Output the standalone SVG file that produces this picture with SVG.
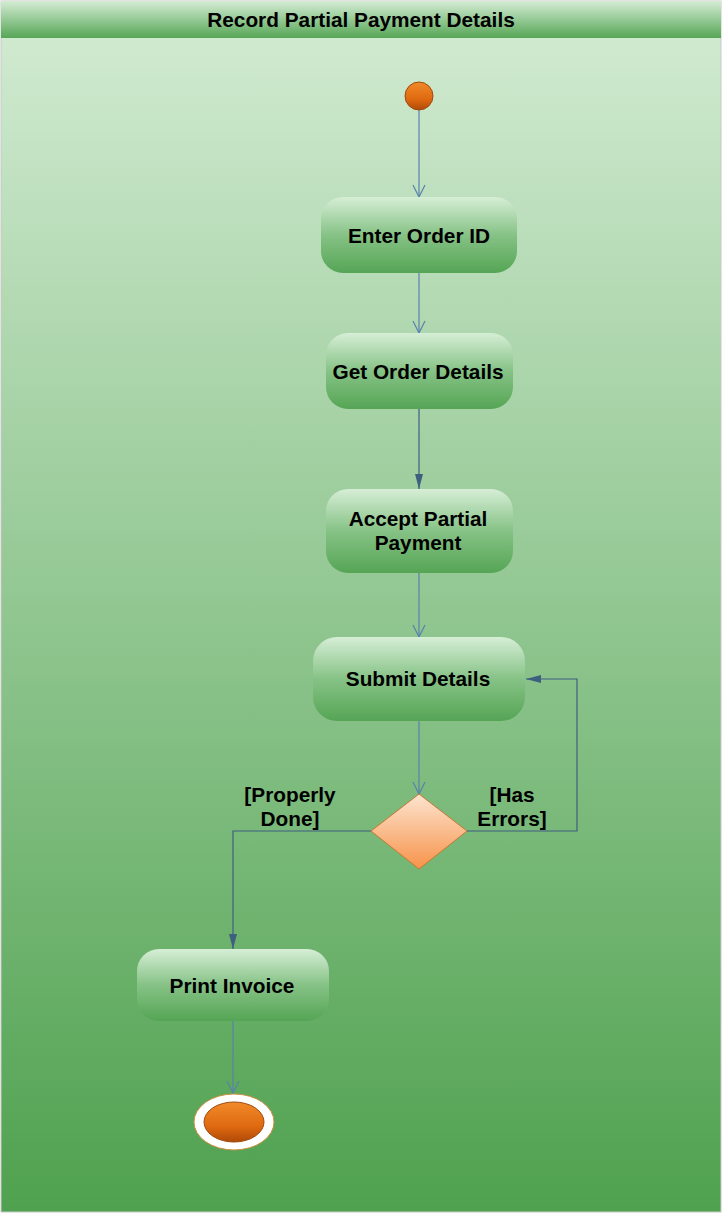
<svg xmlns="http://www.w3.org/2000/svg" width="722" height="1213" viewBox="0 0 722 1213">
<style>
.lbl{font-family:"Liberation Sans",Arial,sans-serif;font-weight:bold;font-size:20.8px;fill:#000;text-anchor:middle}
.act{fill:url(#gAct);stroke:none}
.ln{fill:none;stroke:#5a82ad;stroke-width:1.2}
.lnd{fill:none;stroke:#3f5f80;stroke-width:1.2}
</style>
<defs>
<linearGradient id="gBg" x1="0" y1="0" x2="0" y2="1">
<stop offset="0" stop-color="#d4ecd4"/>
<stop offset="1" stop-color="#4fa14f"/>
</linearGradient>
<linearGradient id="gHead" x1="0" y1="0" x2="0" y2="1">
<stop offset="0" stop-color="#d4ecd4"/>
<stop offset="1" stop-color="#56a656"/>
</linearGradient>
<linearGradient id="gAct" x1="0" y1="0" x2="0" y2="1">
<stop offset="0" stop-color="#d6eed6"/>
<stop offset="0.5" stop-color="#86c286"/>
<stop offset="1" stop-color="#55a555"/>
</linearGradient>
<linearGradient id="gOr" x1="0" y1="0" x2="0" y2="1">
<stop offset="0" stop-color="#f08a2a"/>
<stop offset="0.6" stop-color="#e06a10"/>
<stop offset="1" stop-color="#b04a08"/>
</linearGradient>
<linearGradient id="gDia" x1="0" y1="0" x2="0" y2="1">
<stop offset="0" stop-color="#fde4d0"/>
<stop offset="1" stop-color="#f7934a"/>
</linearGradient>
<marker id="open" markerWidth="14" markerHeight="14" refX="13" refY="7" orient="auto" markerUnits="userSpaceOnUse" viewBox="0 0 14 14">
<path d="M1,1 L13,7 L1,13" fill="none" stroke="#5a82ad" stroke-width="1.2"/>
</marker>
<marker id="fill" markerWidth="16" markerHeight="12" refX="15" refY="6" orient="auto" markerUnits="userSpaceOnUse" viewBox="0 0 16 12">
<path d="M0,2 L15,6 L0,10 Z" fill="#3f5f80"/>
</marker>
</defs>
<rect x="1" y="1" width="720" height="1211" fill="url(#gBg)" stroke="#c8c8c8" stroke-width="1"/>
<g id="header">
<rect x="1" y="1" width="720" height="37" fill="url(#gHead)"/>
<text class="lbl" x="361" y="27">Record Partial Payment Details</text>
</g>
<g id="connectors">
<line class="ln" x1="419" y1="110" x2="419" y2="197" marker-end="url(#open)"/>
<line class="ln" x1="419" y1="273" x2="419" y2="333" marker-end="url(#open)"/>
<line class="lnd" x1="419" y1="409" x2="419" y2="489" marker-end="url(#fill)"/>
<line class="ln" x1="419" y1="573" x2="419" y2="637" marker-end="url(#open)"/>
<line class="ln" x1="419" y1="721" x2="419" y2="794" marker-end="url(#open)"/>
<polyline class="lnd" points="467,831 577,831 577,679 526,679" marker-end="url(#fill)"/>
<polyline class="lnd" points="371,831 233,831 233,949" marker-end="url(#fill)"/>
<line class="ln" x1="233" y1="1021" x2="233" y2="1093" marker-end="url(#open)"/>
<text class="lbl" x="290" y="802">[Properly</text>
<text class="lbl" x="290" y="826">Done]</text>
<text class="lbl" x="512" y="802">[Has</text>
<text class="lbl" x="512" y="826">Errors]</text>
</g>
<g id="start">
<circle cx="419" cy="96" r="14" fill="url(#gOr)" stroke="#a04a10" stroke-width="1"/>
</g>
<g id="enter-order-id">
<rect class="act" x="321" y="197" width="196" height="76" rx="22"/>
<text class="lbl" x="419" y="243">Enter Order ID</text>
</g>
<g id="get-order-details">
<rect class="act" x="326" y="333" width="187" height="76" rx="22"/>
<text class="lbl" x="418" y="379">Get Order Details</text>
</g>
<g id="accept-partial-payment">
<rect class="act" x="326" y="489" width="187" height="84" rx="22"/>
<text class="lbl" x="418" y="526">Accept Partial</text>
<text class="lbl" x="418" y="550">Payment</text>
</g>
<g id="submit-details">
<rect class="act" x="313" y="637" width="212" height="84" rx="24"/>
<text class="lbl" x="418" y="686">Submit Details</text>
</g>
<g id="decision">
<polygon points="419,794 467,831 419,869 371,831" fill="url(#gDia)" stroke="#c87830" stroke-width="1"/>
</g>
<g id="print-invoice">
<rect class="act" x="137" y="949" width="192" height="72" rx="22"/>
<text class="lbl" x="232" y="993">Print Invoice</text>
</g>
<g id="end">
<ellipse cx="234" cy="1122" rx="40" ry="28" fill="#ffffff" stroke="#d09040" stroke-width="1"/>
<ellipse cx="234" cy="1122" rx="30" ry="20" fill="url(#gOr)" stroke="#a04a10" stroke-width="1"/>
</g>
</svg>
